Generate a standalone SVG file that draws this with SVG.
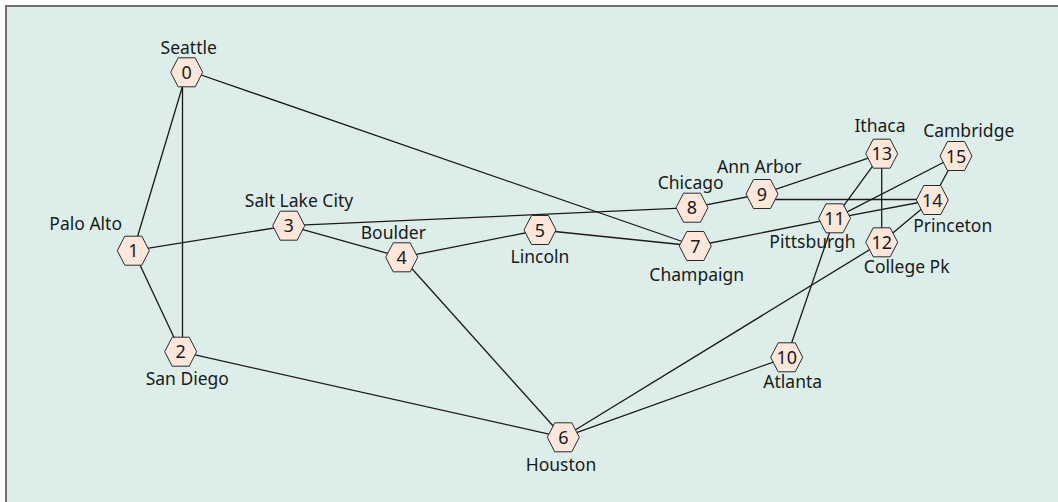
<svg xmlns="http://www.w3.org/2000/svg" width="1058" height="502" viewBox="0 0 1058 502">
<defs>
<style>
.bg{fill:#ddeeea;}
.frame{fill:none;stroke:#6e7371;stroke-width:2;}
.edge{stroke:#1a1a1a;stroke-width:1.3;fill:none;}
.hex{fill:#fde7da;stroke:#2a2a2a;stroke-width:1;}
.num{font-family:"Noto Sans","Open Sans",sans-serif;font-size:18px;fill:#1a1a1a;text-anchor:middle;}
.lbl{font-family:"Noto Sans","Open Sans",sans-serif;font-size:17.5px;fill:#1a1a1a;text-anchor:middle;}
</style>
<polygon id="h" points="-16,0 -8.5,-14.5 8.5,-14.5 16,0 8.5,14.5 -8.5,14.5"/>
</defs>
<rect class="bg" x="6" y="6" width="1052" height="496"/>
<path class="frame" d="M6,502 V6 H1058"/>
<g id="connectors">
<line class="edge" x1="186.7" y1="72.3" x2="133.3" y2="250.7"/>
<line class="edge" x1="182.5" y1="72.3" x2="182.5" y2="351.7"/>
<line class="edge" x1="186.7" y1="70" x2="695.3" y2="246"/>
<line class="edge" x1="133.3" y1="250.7" x2="180.7" y2="351.7"/>
<line class="edge" x1="133.3" y1="250.7" x2="288.7" y2="225.7"/>
<line class="edge" x1="288.7" y1="225.7" x2="692" y2="207.7"/>
<line class="edge" x1="288.7" y1="225.7" x2="401.7" y2="257.3"/>
<line class="edge" x1="401.7" y1="257.3" x2="540" y2="230"/>
<line class="edge" x1="540" y1="230" x2="695.3" y2="246"/>
<line class="edge" x1="401.7" y1="257.3" x2="563.3" y2="437.3"/>
<line class="edge" x1="180.7" y1="351.7" x2="563.3" y2="437.3"/>
<line class="edge" x1="563.3" y1="437.3" x2="786.7" y2="357.3"/>
<line class="edge" x1="563.3" y1="437.3" x2="881.7" y2="242.3"/>
<line class="edge" x1="692" y1="207.7" x2="762" y2="194"/>
<line class="edge" x1="762" y1="194" x2="881.7" y2="153.7"/>
<line class="edge" x1="762" y1="199.5" x2="932.3" y2="199.5"/>
<line class="edge" x1="695.3" y1="246" x2="834.5" y2="218.3"/>
<line class="edge" x1="834.5" y1="218.3" x2="881.7" y2="153.7"/>
<line class="edge" x1="834.5" y1="218.3" x2="956" y2="156"/>
<line class="edge" x1="834.5" y1="218.3" x2="932.3" y2="200"/>
<line class="edge" x1="881.7" y1="153.7" x2="881.7" y2="242.3"/>
<line class="edge" x1="881.7" y1="242.3" x2="932.3" y2="200"/>
<line class="edge" x1="932.3" y1="200" x2="956" y2="156"/>
<line class="edge" x1="786.7" y1="357.3" x2="834.5" y2="218.3"/>
</g>
<g id="n0"><use href="#h" class="hex" x="186.7" y="72.3"/><text class="num" x="186.7" y="78.8">0</text><text class="lbl" x="188.7" y="54">Seattle</text></g>
<g id="n1"><use href="#h" class="hex" x="133.3" y="250.7"/><text class="num" x="133.3" y="257.2">1</text><text class="lbl" x="85.7" y="230">Palo Alto</text></g>
<g id="n2"><use href="#h" class="hex" x="180.7" y="351.7"/><text class="num" x="180.7" y="358.2">2</text><text class="lbl" x="187.3" y="385">San Diego</text></g>
<g id="n3"><use href="#h" class="hex" x="288.7" y="225.7"/><text class="num" x="288.7" y="232.2">3</text><text class="lbl" x="299" y="207.3">Salt Lake City</text></g>
<g id="n4"><use href="#h" class="hex" x="401.7" y="257.3"/><text class="num" x="401.7" y="263.8">4</text><text class="lbl" x="393.3" y="239.3">Boulder</text></g>
<g id="n5"><use href="#h" class="hex" x="540" y="230"/><text class="num" x="540" y="236.5">5</text><text class="lbl" x="540" y="262.7">Lincoln</text></g>
<g id="n6"><use href="#h" class="hex" x="563.3" y="437.3"/><text class="num" x="563.3" y="443.8">6</text><text class="lbl" x="561" y="470.7">Houston</text></g>
<g id="n7"><use href="#h" class="hex" x="695.3" y="246"/><text class="num" x="695.3" y="252.5">7</text><text class="lbl" x="696.7" y="280.7">Champaign</text></g>
<g id="n8"><use href="#h" class="hex" x="692" y="207.7"/><text class="num" x="692" y="214.2">8</text><text class="lbl" x="690.7" y="189">Chicago</text></g>
<g id="n9"><use href="#h" class="hex" x="762" y="194"/><text class="num" x="762" y="200.5">9</text><text class="lbl" x="759.3" y="173.3">Ann Arbor</text></g>
<g id="n10"><use href="#h" class="hex" x="786.7" y="357.3"/><text class="num" x="786.7" y="363.8">10</text><text class="lbl" x="792.7" y="388.3">Atlanta</text></g>
<g id="n11"><use href="#h" class="hex" x="834.5" y="218.3"/><text class="num" x="834.5" y="224.8">11</text><text class="lbl" x="812.5" y="247.5">Pittsburgh</text></g>
<g id="n12"><use href="#h" class="hex" x="881.7" y="242.3"/><text class="num" x="881.7" y="248.8">12</text><text class="lbl" x="906.7" y="273.3">College Pk</text></g>
<g id="n13"><use href="#h" class="hex" x="881.7" y="153.7"/><text class="num" x="881.7" y="160.2">13</text><text class="lbl" x="880" y="132.3">Ithaca</text></g>
<g id="n14"><use href="#h" class="hex" x="932.3" y="200"/><text class="num" x="932.3" y="206.5">14</text><text class="lbl" x="952.7" y="232.3">Princeton</text></g>
<g id="n15"><use href="#h" class="hex" x="956" y="156"/><text class="num" x="956" y="162.5">15</text><text class="lbl" x="968.7" y="137.3">Cambridge</text></g>
</svg>
